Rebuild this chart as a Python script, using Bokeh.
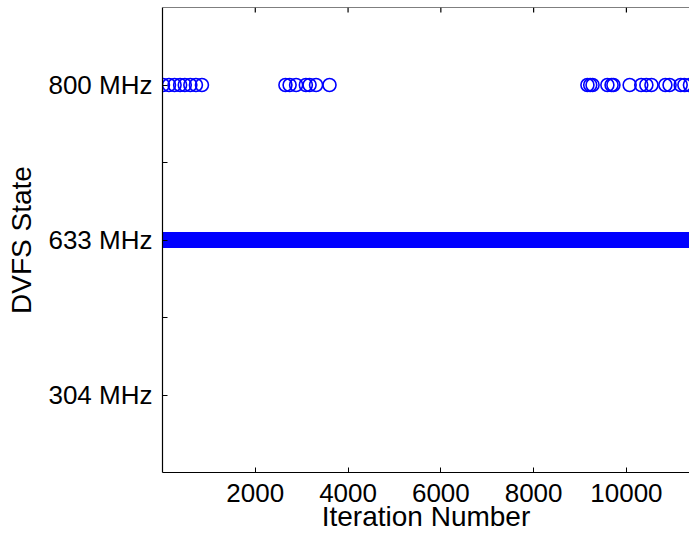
import numpy as np
from bokeh.plotting import figure
from bokeh.models import FixedTicker, ColumnDataSource, Span
from bokeh.embed import file_html
from bokeh.resources import INLINE

# ---- data ----
state_labels = ["304 MHz", "633 MHz", "800 MHz"]
state_levels = [1, 2, 3]
x_ticks = [2000, 4000, 6000, 8000, 10000]
total_iterations = 11360

# iterations at which the DVFS state was 800 MHz
iter_800 = [10, 140, 260, 380, 480, 600, 720, 850,
            2650, 2740, 2880, 3090, 3170, 3310, 3600,
            9160, 9220, 9270, 9590, 9680, 9720, 10070, 10320, 10430,
            10540, 10840, 10930, 11170, 11250, 11370]

# every other iteration ran at 633 MHz
all_iters = np.arange(1, total_iterations + 1)
iter_633 = np.setdiff1d(all_iters, np.array(iter_800))

src633 = ColumnDataSource(dict(x=iter_633, y=np.full(len(iter_633), state_levels[1])))
src800 = ColumnDataSource(dict(x=iter_800, y=[state_levels[2]] * len(iter_800)))

FONT = "Liberation Sans"
Y0, Y1 = 0.5, 3.5
W, H = 689, 535
TOP, LEFT, BOTTOM = 7, 162, 63

p = figure(width=W, height=H, x_range=(0, total_iterations), y_range=(Y0, Y1),
           output_backend="svg", toolbar_location=None,
           min_border_left=LEFT, min_border_right=0, min_border_top=TOP,
           min_border_bottom=BOTTOM)
p.outline_line_color = None
p.grid.visible = False
p.background_fill_color = "white"
p.border_fill_color = "white"

blue = "#0000ff"
p.scatter("x", "y", source=src633, marker="circle", size=13, fill_color=None,
          line_color=blue, line_width=1.6)
p.scatter("x", "y", source=src800, marker="circle", size=13, fill_color=None,
          line_color=blue, line_width=1.6)

# bottom axis
xa = p.xaxis[0]
xa.ticker = FixedTicker(ticks=x_ticks)
xa.axis_label = "Iteration Number"
xa.axis_label_text_font = FONT
xa.axis_label_text_font_size = "28px"
xa.axis_label_text_font_style = "normal"
xa.axis_label_text_color = "black"
xa.axis_label_standoff = -4
xa.major_label_text_font = FONT
xa.major_label_text_font_size = "26px"
xa.major_label_text_color = "black"
xa.major_label_standoff = 11
xa.major_tick_in = 5
xa.major_tick_out = 0
xa.minor_tick_in = 0
xa.minor_tick_out = 0
xa.axis_line_color = "black"
xa.axis_line_width = 1.2
xa.major_tick_line_color = "black"

# left axis
ya = p.yaxis[0]
ya.ticker = FixedTicker(ticks=state_levels, minor_ticks=[1.5, 2.5])
ya.major_label_overrides = {lv: lab for lv, lab in zip(state_levels, state_labels)}
ya.axis_label = "DVFS State"
ya.axis_label_text_font = FONT
ya.axis_label_text_font_size = "28px"
ya.axis_label_text_font_style = "normal"
ya.axis_label_text_color = "black"
ya.axis_label_standoff = 8
ya.major_label_text_font = FONT
ya.major_label_text_font_size = "26px"
ya.major_label_text_color = "black"
ya.major_label_standoff = 10
ya.major_tick_in = 5
ya.major_tick_out = 0
ya.minor_tick_in = 5
ya.minor_tick_out = 0
ya.axis_line_color = "black"
ya.axis_line_width = 1.2
ya.major_tick_line_color = "black"
ya.minor_tick_line_color = "black"

# top spine with inward ticks
p.add_layout(Span(location=Y1, dimension="width", line_color="black", line_width=1.2))
frame_h = 465.0
tick_len = 5.0 * (Y1 - Y0) / frame_h
p.segment(x0=x_ticks, x1=x_ticks, y0=[Y1] * len(x_ticks), y1=[Y1 - tick_len] * len(x_ticks),
          line_color="black", line_width=1.2)

open("out.html", "w").write(file_html(p, INLINE))
